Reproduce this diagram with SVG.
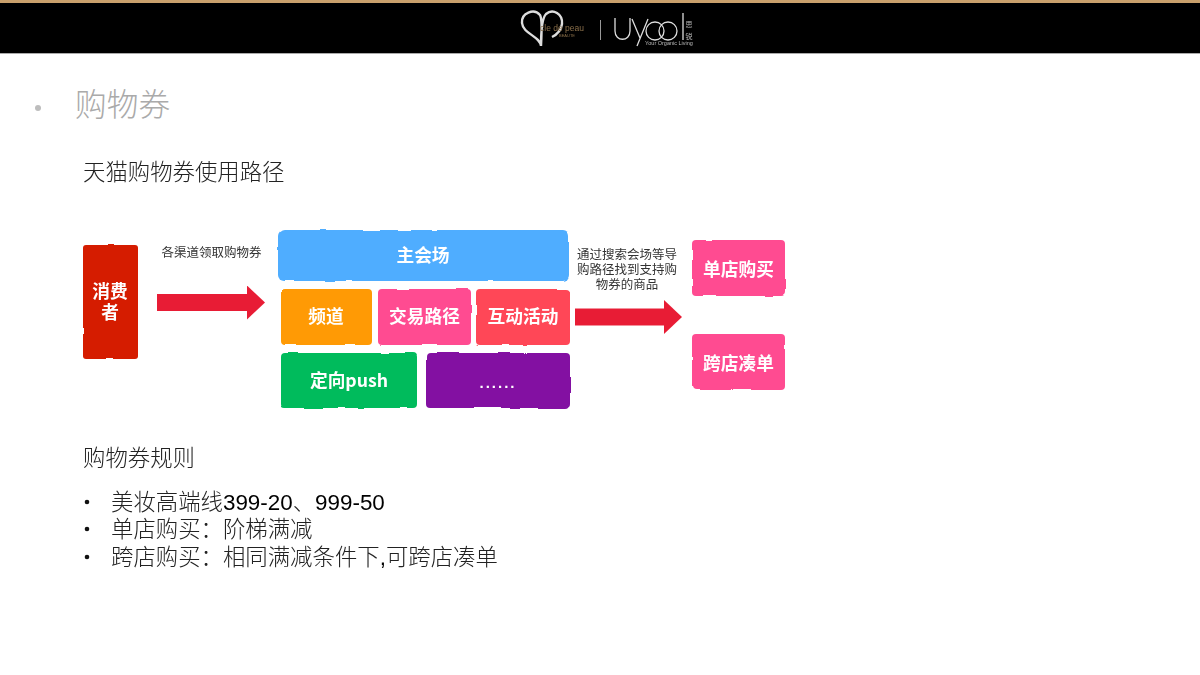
<svg xmlns="http://www.w3.org/2000/svg" width="1200" height="675" viewBox="0 0 1200 675">
<defs>
<filter id="soft" filterUnits="userSpaceOnUse" x="0" y="0" width="1200" height="675"><feGaussianBlur stdDeviation="0.45"/></filter>
<filter id="softer" filterUnits="userSpaceOnUse" x="0" y="0" width="1200" height="675"><feGaussianBlur stdDeviation="0.3"/></filter>
<filter id="wobble" filterUnits="userSpaceOnUse" x="60" y="215" width="740" height="205" color-interpolation-filters="sRGB"><feTurbulence type="fractalNoise" baseFrequency="0.05" numOctaves="1" seed="7" result="n"/><feDisplacementMap in="SourceGraphic" in2="n" scale="3" xChannelSelector="R" yChannelSelector="G"/><feGaussianBlur stdDeviation="0.6"/></filter>
<marker id="head" markerUnits="userSpaceOnUse" markerWidth="18" markerHeight="34" refX="0" refY="17" orient="auto"><path d="M0 0L18 17L0 34Z" fill="#e81e36"/></marker>
</defs>
<style>
text{font-family:"Liberation Sans","Noto Sans CJK SC",sans-serif}
.lat{fill:#000}
.lbl{font-size:17.7px;font-weight:700;fill:#fff;text-anchor:middle;filter:url(#soft)}
.dots{font-size:15px;letter-spacing:2px}
.cap{font-size:12.5px;fill:#333;text-anchor:middle;filter:url(#soft)}
.body{font-size:22.4px;font-weight:300;fill:#222;filter:url(#softer)}
.conn{stroke:#e81e36;stroke-width:17;fill:none}
.box{filter:url(#wobble)}
</style>
<rect width="1200" height="675" fill="#fff"/>
<g id="header">
<rect y="0" width="1200" height="53" fill="#000"/>
<rect y="0" width="1200" height="3" fill="#c9a06c"/>
<rect y="53" width="1200" height="1" fill="#aaa"/>
<g fill="none" stroke="#ddd" filter="url(#soft)">
<path d="M541 46C540 36 523 34 522 23C521 13 534 8 540 15C542 18 542 28 541 46C541 28 542 18 546 14C553 8 563 14 562 24C561 31 556 35 552 37" stroke-width="2.400"/>
<path d="M600.500 20V40" stroke="#999" stroke-width="1"/>
<path d="M615 18V31C615 42 630 42 630 31V18" stroke-width="1.300"/>
<path d="M632 19L640 38M648 19L637 46" stroke-width="1.300"/>
<circle cx="655" cy="31" r="9" stroke-width="1.300"/>
<circle cx="668" cy="31" r="9" stroke-width="1.300"/>
<path d="M683 13V40" stroke-width="1.300"/>
<text x="689" y="27" font-size="7" fill="#bbb" stroke="none" text-anchor="middle">思</text>
<text x="689" y="39" font-size="7" fill="#bbb" stroke="none" text-anchor="middle">锐</text>
<text x="562" y="31" font-size="8.500" fill="#8a6f4a" stroke="none" text-anchor="middle">cle de peau</text>
<text x="567" y="37" font-size="4" fill="#8a6f4a" stroke="none" text-anchor="middle">BEAUTE</text>
<text x="669" y="45" font-size="5.500" fill="#bbb" stroke="none" text-anchor="middle">Your Organic Living</text>
</g>
</g>
<g id="title">
<circle cx="38" cy="108" r="3" fill="#bdbdbd"/>
<text x="75" y="116" font-size="31.700" font-weight="300" fill="#aaa">购物券</text>
</g>
<text class="body" x="83" y="180">天猫购物券使用路径</text>
<g id="connectors" filter="url(#soft)">
<path class="conn" d="M157 302.500H247" marker-end="url(#head)"/>
<path class="conn" d="M575 317H664" marker-end="url(#head)"/>
</g>
<text class="cap" x="211.500" y="257">各渠道领取购物券</text>
<text class="cap"><tspan x="627" y="259">通过搜索会场等导</tspan><tspan x="627" y="274">购路径找到支持购</tspan><tspan x="627" y="289">物券的商品</tspan></text>
<g id="node-consumer">
<rect class="box" x="83" y="245" width="55" height="114" rx="3" fill="#d51c00"/>
<text class="lbl"><tspan x="110" y="298">消费</tspan><tspan x="110" y="319">者</tspan></text>
</g>
<g id="node-main">
<rect class="box" x="278" y="230" width="291" height="51" rx="6" fill="#4fadff"/>
<text class="lbl" x="423" y="262">主会场</text>
</g>
<g id="node-channel">
<rect class="box" x="281" y="289" width="91" height="56" rx="4" fill="#ff9a05"/>
<text class="lbl" x="326" y="323">频道</text>
</g>
<g id="node-path">
<rect class="box" x="378" y="289" width="93" height="56" rx="4" fill="#ff4b91"/>
<text class="lbl" x="424.500" y="323">交易路径</text>
</g>
<g id="node-activity">
<rect class="box" x="476" y="289" width="94" height="56" rx="4" fill="#ff4757"/>
<text class="lbl" x="523" y="323">互动活动</text>
</g>
<g id="node-push">
<rect class="box" x="281" y="353" width="136" height="55" rx="4" fill="#00bb5c"/>
<text class="lbl" x="349" y="387">定向<tspan font-family="Noto Sans CJK SC">push</tspan></text>
</g>
<g id="node-more">
<rect class="box" x="426" y="353" width="144" height="55" rx="4" fill="#8310a2"/>
<text class="lbl dots" x="498" y="388">......</text>
</g>
<g id="node-single">
<rect class="box" x="692" y="240" width="93" height="56" rx="4" fill="#ff4b91"/>
<text class="lbl" x="738.500" y="276">单店购买</text>
</g>
<g id="node-cross">
<rect class="box" x="692" y="334" width="93" height="56" rx="4" fill="#ff4b91"/>
<text class="lbl" x="738.500" y="370">跨店凑单</text>
</g>
<text class="body" x="83" y="466">购物券规则</text>
<g id="rules">
<circle cx="87" cy="502" r="2.300" fill="#111"/>
<circle cx="87" cy="529" r="2.300" fill="#111"/>
<circle cx="87" cy="557" r="2.300" fill="#111"/>
<text class="body"><tspan x="111" y="510">美妆高端线<tspan class="lat">399-20</tspan>、<tspan class="lat">999-50</tspan></tspan><tspan x="111" y="537">单店购买：阶梯满减</tspan><tspan x="111" y="565">跨店购买：相同满减条件下<tspan class="lat">,</tspan>可跨店凑单</tspan></text>
</g>
</svg>
